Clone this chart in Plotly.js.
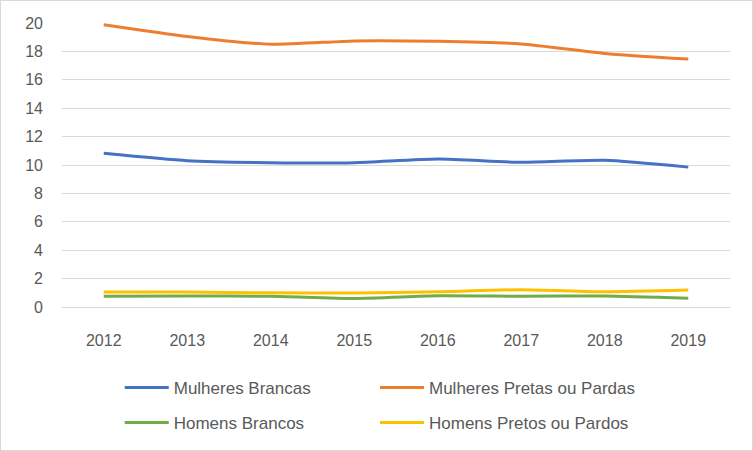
<!DOCTYPE html>
<html>
<head>
<meta charset="utf-8">
<script src="https://cdn.plot.ly/plotly-3.0.1.min.js"></script>
<style>
  html, body { margin: 0; padding: 0; background: #fff; }
  #wrap { position: relative; width: 753px; height: 451px; }
  #chart { width: 753px; height: 451px; }
  #frame { position: absolute; left: 0; top: 0; width: 751px; height: 449px; border: 1px solid #D9D9D9; pointer-events: none; }
</style>
</head>
<body>
<div id="wrap"><div id="chart"></div><div id="frame"></div></div>
<script>
const years = ['2012', '2013', '2014', '2015', '2016', '2017', '2018', '2019'];
const mulheresBrancas = [10.82, 10.3, 10.16, 10.16, 10.42, 10.19, 10.33, 9.85];
const mulheresPretasPardas = [19.88, 19.05, 18.5, 18.74, 18.71, 18.52, 17.86, 17.46];
const homensBrancos = [0.76, 0.77, 0.76, 0.6, 0.79, 0.76, 0.78, 0.62];
const homensPretosPardos = [1.05, 1.05, 1.0, 0.98, 1.07, 1.22, 1.07, 1.19];
const seriesNames = ['Mulheres Brancas', 'Mulheres Pretas ou Pardas', 'Homens Brancos', 'Homens Pretos ou Pardos'];
const tickVals = [0, 2, 4, 6, 8, 10, 12, 14, 16, 18, 20];

const colors = ['#4472C4', '#ED7D31', '#70AD47', '#FFC000'];
const data = [mulheresBrancas, mulheresPretasPardas, homensBrancos, homensPretosPardos];
const legendIds = ['legend', 'legend2', 'legend3', 'legend4'];

const traces = data.map((vals, i) => ({
  type: 'scatter',
  mode: 'lines',
  x: years,
  y: vals,
  name: seriesNames[i],
  legend: legendIds[i],
  line: { color: colors[i], width: 3, shape: 'spline', smoothing: 0.6 },
  hoverinfo: 'skip'
}));
const order = [2, 3, 0, 1];
const ordered = order.map(i => traces[i]);

const fontFam = '"Liberation Sans", Arial, sans-serif';
const legendCommon = {
  orientation: 'h',
  xref: 'container',
  yref: 'container',
  xanchor: 'left',
  yanchor: 'middle',
  itemwidth: 44,
  bgcolor: 'rgba(0,0,0,0)',
  font: { family: fontFam, size: 17, color: '#595959' },
  itemclick: false,
  itemdoubleclick: false
};
const colX = [0.159, 0.498];
const rowY = [0.1397, 0.0621];

const layout = {
  width: 753,
  height: 451,
  margin: { l: 62, r: 23, t: 23, b: 144 },
  paper_bgcolor: '#ffffff',
  plot_bgcolor: '#ffffff',
  showlegend: true,
  font: { family: fontFam, size: 16, color: '#595959' },
  xaxis: {
    type: 'category',
    range: [-0.5, 7.5],
    showgrid: false,
    zeroline: false,
    showline: false,
    ticks: '',
    ticklabelstandoff: 22,
    tickfont: { family: fontFam, size: 16, color: '#595959' },
    fixedrange: true
  },
  yaxis: {
    range: [0, 20],
    tickvals: tickVals,
    ticktext: tickVals.map(String),
    showgrid: true,
    gridcolor: '#D9D9D9',
    gridwidth: 1,
    zeroline: true,
    zerolinecolor: '#D9D9D9',
    zerolinewidth: 1,
    showline: false,
    ticks: '',
    ticklabelstandoff: 18,
    tickfont: { family: fontFam, size: 16, color: '#595959' },
    fixedrange: true
  }
};
legendIds.forEach((id, i) => {
  layout[id] = Object.assign({}, legendCommon, { x: colX[i % 2], y: rowY[Math.floor(i / 2)] });
});

Plotly.newPlot('chart', ordered, layout, { displayModeBar: false, staticPlot: true });
</script>
</body>
</html>
